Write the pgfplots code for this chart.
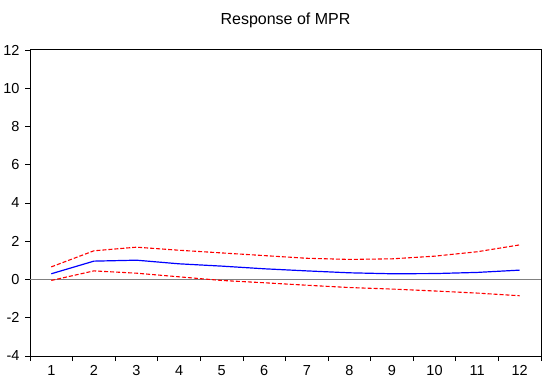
\documentclass[border=0pt]{standalone}
\usepackage{pgfplots}
\pgfplotsset{compat=1.18}
\usepackage{fontspec}
\setmainfont{Liberation Sans}
\begin{document}
\begin{tikzpicture}
\useasboundingbox (0,0) rectangle (550bp,385bp);
\begin{axis}[
  at={(30bp,29bp)}, anchor=south west,
  scale only axis, width=511bp, height=306bp,
  xmin=0.5, xmax=12.5, ymin=-4, ymax=12,
  xtick={1,...,12}, ytick={-4,-2,...,12},
  minor xtick={0.5,1.5,...,12.5},
  major x tick style={draw=none},
  minor x tick style={black, line width=0.8pt},
  y tick style={black, line width=0.8pt},
  tick align=outside, major tick length=5bp, minor tick length=5bp,
  xtick pos=bottom, ytick pos=left,
  axis line style={black, line width=1pt},
  tick label style={font=\fontsize{14.5bp}{16bp}\selectfont},
  /pgf/number format/assume math mode=true,
  yticklabel style={xshift=-2bp},
  xticklabel style={yshift=-1bp},
  title={\fontsize{16bp}{18bp}\selectfont Response of MPR},
  title style={at={(0.5,1)}, yshift=13bp, anchor=south},
  clip=false,
]
\addplot[gray, line width=1.1pt, forget plot] coordinates {(0.5,0) (12.5,0)};
\addplot[red, line width=1.1pt, dash pattern=on 4bp off 2bp] coordinates {
(1,0.66) (2,1.50) (3,1.69) (4,1.53) (5,1.39) (6,1.25) (7,1.11) (8,1.05) (9,1.08) (10,1.22) (11,1.45) (12,1.81)};
\addplot[red, line width=1.1pt, dash pattern=on 4bp off 2bp] coordinates {
(1,-0.05) (2,0.45) (3,0.33) (4,0.14) (5,-0.05) (6,-0.17) (7,-0.30) (8,-0.42) (9,-0.50) (10,-0.60) (11,-0.71) (12,-0.85)};
\addplot[blue, line width=1.2pt] coordinates {
(1,0.30) (2,0.96) (3,1.01) (4,0.82) (5,0.70) (6,0.56) (7,0.45) (8,0.35) (9,0.30) (10,0.31) (11,0.37) (12,0.49)};
\end{axis}
\end{tikzpicture}
\end{document}
